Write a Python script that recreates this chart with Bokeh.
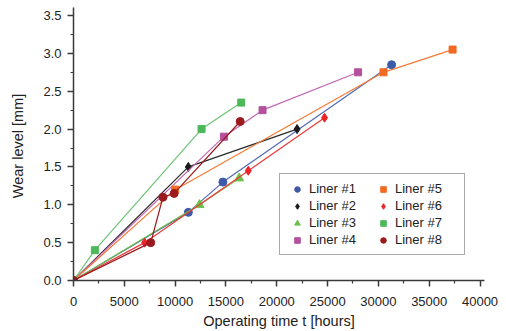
from bokeh.plotting import figure
from bokeh.models import Legend, LegendItem, FixedTicker, PrintfTickFormatter
from bokeh.embed import file_html
from bokeh.resources import INLINE

# ---- data (operating time [hours], wear level [mm]) ----
names = ["Liner #1", "Liner #2", "Liner #3", "Liner #4",
         "Liner #5", "Liner #6", "Liner #7", "Liner #8"]
t1 = [0, 11300, 14700, 31300]; w1 = [0, 0.9, 1.3, 2.85]
t2 = [0, 11300, 22000];        w2 = [0, 1.5, 2.0]
t3 = [0, 12400, 16300];        w3 = [0, 1.0, 1.35]
t4 = [0, 14800, 18600, 28000]; w4 = [0, 1.9, 2.25, 2.75]
t5 = [0, 10000, 30500, 37300]; w5 = [0, 1.2, 2.75, 3.05]
t6 = [0, 7000, 17200, 24700];  w6 = [0, 0.5, 1.45, 2.15]
t7 = [0, 2100, 12600, 16500];  w7 = [0, 0.4, 2.0, 2.35]
t8 = [0, 7600, 8800, 9900, 16400]; w8 = [0, 0.5, 1.1, 1.15, 2.1]

x_ticks = [0, 5000, 10000, 15000, 20000, 25000, 30000, 35000, 40000]
x_minor = [2500, 7500, 12500, 17500, 22500, 27500, 32500, 37500]
y_ticks = [0.0, 0.5, 1.0, 1.5, 2.0, 2.5, 3.0, 3.5]
y_minor = [0.25, 0.75, 1.25, 1.75, 2.25, 2.75, 3.25]

series = [
    # t, w, marker, marker colour, line colour, size
    (t1, w1, "circle",   "#3d5aa8", "#4f6bb5", 8),
    (t2, w2, "diamond",  "#1a1a1a", "#2a2a2a", 9),
    (t3, w3, "triangle", "#6cbf4a", "#6cbf4a", 9),
    (t4, w4, "square",   "#b5509c", "#c467b4", 7),
    (t5, w5, "square",   "#f26a21", "#f47a36", 7),
    (t6, w6, "diamond",  "#ec2327", "#ec3a3a", 9),
    (t7, w7, "square",   "#4cb85a", "#6cc475", 7),
    (t8, w8, "circle",   "#9a1a1e", "#9a1a1e", 8),
]

FONT = "Liberation Sans"

p = figure(frame_width=411, frame_height=273,
           x_range=(0, 40440), y_range=(0, 3.606),
           output_backend="svg", toolbar_location=None,
           min_border_left=73, min_border_right=22,
           min_border_top=7, min_border_bottom=51,
           background_fill_color="white", border_fill_color="white")
p.outline_line_color = None
p.grid.visible = False

for ax in (p.xaxis[0], p.yaxis[0]):
    ax.axis_line_color = "#3a3a3a"
    ax.axis_line_width = 1.5
    ax.major_tick_line_color = "#3a3a3a"
    ax.minor_tick_line_color = "#3a3a3a"
    ax.major_tick_line_width = 1.5
    ax.minor_tick_line_width = 1.2
    ax.major_tick_in = 0
    ax.major_tick_out = 6
    ax.minor_tick_in = 0
    ax.minor_tick_out = 3
    ax.major_label_text_font = FONT
    ax.major_label_text_font_size = "13px"
    ax.major_label_text_color = "#222222"
    ax.axis_label_text_font = FONT
    ax.axis_label_text_font_size = "14.5px"
    ax.axis_label_text_font_style = "normal"
    ax.axis_label_text_color = "#222222"

p.xaxis.ticker = FixedTicker(ticks=x_ticks, minor_ticks=x_minor)
p.yaxis.ticker = FixedTicker(ticks=y_ticks, minor_ticks=y_minor)
p.yaxis.formatter = PrintfTickFormatter(format="%.1f")
p.xaxis.formatter = PrintfTickFormatter(format="%d")
p.xaxis.major_label_standoff = 10
p.yaxis.major_label_standoff = 6
p.xaxis.axis_label = "Operating time t [hours]"
p.yaxis.axis_label = "Wear level  [mm]"
p.xaxis.axis_label_standoff = 4
p.yaxis.axis_label_standoff = 14

items = []
for (t, w, mk, mc, lc, sz), name in zip(series, names):
    p.line(t, w, line_color=lc, line_width=1.2)
    r = p.scatter(t, w, marker=mk, size=sz, fill_color=mc, line_color=mc)
    items.append(LegendItem(label=name, renderers=[r]))

legend = Legend(items=items, ncols=2, location=(206, 25),
                label_text_font=FONT, label_text_font_size="13px",
                label_text_color="#222222",
                glyph_width=20, glyph_height=14, label_height=14,
                label_width=62, label_standoff=2, spacing=2, padding=7,
                border_line_color="#555555", border_line_width=1,
                background_fill_color="white", background_fill_alpha=1.0)
p.add_layout(legend, "center")

open("out.html", "w").write(file_html(p, INLINE))
